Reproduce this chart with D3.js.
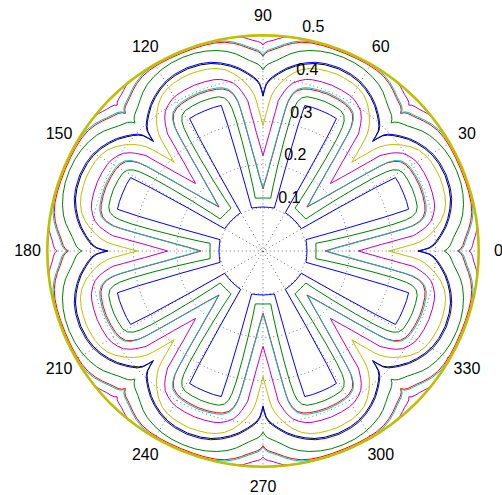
<!DOCTYPE html>
<html><head><meta charset="utf-8">
<script src="https://cdn.jsdelivr.net/npm/d3@7"></script>
<style>html,body{margin:0;padding:0;background:#fff;} svg{display:block;}</style>
</head><body>
<svg id="chart" width="502" height="495"></svg>
<script>
// ---------- data ----------
const angleTicks = [0, 30, 60, 90, 120, 150, 180, 210, 240, 270, 300, 330];
const radialTicks = [0.1, 0.2, 0.3, 0.4];
const rMax = 0.5;
const lobeCount = 8;          // the pattern repeats every 45 degrees
const periodDeg = 45;

// half-period profiles of each contour: [angle from notch (deg), radius]
const contourBlue1   = [[0,0.102],[7,0.102],[14.8,0.103],[15.2,0.2],[15.6,0.3],[16,0.351],[19,0.352],[22.5,0.352]];
const contourGreen1  = [[0,0.123],[4,0.123],[8.3,0.124],[8.8,0.15],[9.8,0.2],[10.8,0.26],[11.6,0.31],[12.3,0.34],[13,0.355],[14.2,0.366],[16,0.372],[19,0.374],[22.5,0.375]];
const contourRed1    = [[0,0.144],[1.5,0.158],[3,0.175],[4.5,0.2],[5.9,0.228],[7.2,0.265],[8.2,0.3],[9,0.333],[9.6,0.352],[10.6,0.368],[12,0.38],[14,0.387],[16,0.39],[19,0.392],[22.5,0.393]];
const contourCyan1   = [[0,0.147],[1.5,0.161],[3,0.178],[4.5,0.203],[5.9,0.231],[7.2,0.268],[8.2,0.303],[9,0.336],[9.6,0.355],[10.6,0.371],[12,0.383],[14,0.39],[16,0.393],[19,0.395],[22.5,0.396]];
const contourMagenta1= [[0,0.221],[0.8,0.232],[1.9,0.25],[3.2,0.275],[4.2,0.3],[5.1,0.325],[5.8,0.35],[6.4,0.358],[7.5,0.372],[8.5,0.383],[10,0.395],[11.8,0.403],[14,0.41],[16,0.413],[19,0.415],[22.5,0.416]];
const contourYellow1 = [[0,0.291],[0.9,0.31],[1.8,0.33],[2.5,0.348],[3.2,0.362],[4.2,0.375],[5.5,0.388],[7.5,0.404],[9.6,0.418],[12,0.43],[14.5,0.437],[17,0.441],[20,0.443],[22.5,0.444]];
const contourBlack   = [[0,0.359],[0.5,0.372],[1.1,0.385],[2,0.394],[3.2,0.402],[5,0.412],[7.5,0.425],[10,0.435],[12.7,0.444],[15.5,0.451],[18.5,0.455],[22.5,0.457]];
const contourBlue2   = [[0,0.362],[0.5,0.375],[1.1,0.388],[2,0.397],[3.2,0.405],[5,0.415],[7.5,0.428],[10,0.438],[12.7,0.447],[15.5,0.454],[18.5,0.458],[22.5,0.46]];
const contourGreen2  = [[0,0.42],[0.6,0.427],[1.5,0.433],[2.8,0.438],[4.1,0.443],[6,0.452],[8,0.462],[10.2,0.47],[13,0.477],[16,0.482],[19,0.485],[22.5,0.486]];
const contourRed2    = [[0,0.451],[0.6,0.458],[1.5,0.463],[2.8,0.467],[4,0.471],[6,0.479],[8,0.486],[10.4,0.492],[13,0.495],[16,0.496],[19,0.496],[22.5,0.496]];
const contourCyan2   = [[0,0.454],[0.6,0.461],[1.5,0.466],[2.8,0.47],[4,0.474],[6,0.482],[8,0.489],[10.4,0.495],[13,0.498],[16,0.499],[19,0.499],[22.5,0.499]];
const contourMagenta2= [[0,0.478],[0.6,0.483],[1.5,0.486],[2.8,0.489],[4,0.493],[5.5,0.498],[8,0.5],[11,0.5],[14,0.5],[17,0.5],[20,0.5],[22.5,0.5]];
const contourYellow2 = [[0,0.5],[3,0.5],[6,0.5],[9,0.5],[12,0.5],[15,0.5],[18,0.5],[21,0.5],[22.5,0.5]];

const contourProfiles = [contourBlue1, contourGreen1, contourRed1, contourCyan1, contourMagenta1, contourYellow1,
  contourBlack, contourBlue2, contourGreen2, contourRed2, contourCyan2, contourMagenta2, contourYellow2];
const contourColors = ['#0000ff','#008000','#ff0000','#00bfbf','#bf00bf','#bfbf00',
  '#000000','#0000ff','#008000','#ff0000','#00bfbf','#bf00bf','#bfbf00'];

// ---------- layout ----------
const W = 502, H = 495;
const cx = 263, cy = 251, R = 215.7;
const fontFamily = "'Liberation Sans', Arial, Helvetica, sans-serif";

const svg = d3.select('#chart');
const rScale = d3.scaleLinear().domain([0, rMax]).range([0, R]);
const rad = d => d * Math.PI / 180;
const px = (a, r) => cx + rScale(r) * Math.cos(rad(a));
const py = (a, r) => cy - rScale(r) * Math.sin(rad(a));

const g = svg.append('g');

// grid: dotted circles
g.selectAll('circle.grid').data(radialTicks).join('circle')
  .attr('cx', cx).attr('cy', cy).attr('r', d => rScale(d))
  .attr('fill', 'none').attr('stroke', '#333').attr('stroke-width', 0.7)
  .attr('stroke-dasharray', '1,3');
// outer solid circle
g.append('circle').attr('cx', cx).attr('cy', cy).attr('r', rScale(rMax))
  .attr('fill', 'none').attr('stroke', '#000').attr('stroke-width', 0.7);
// spokes
g.selectAll('line.spoke').data(angleTicks.filter(a => a < 180)).join('line')
  .attr('x1', a => px(a, rMax)).attr('y1', a => py(a, rMax))
  .attr('x2', a => px(a + 180, rMax)).attr('y2', a => py(a + 180, rMax))
  .attr('stroke', '#333').attr('stroke-width', 0.7).attr('stroke-dasharray', '1,3');

// contours
function expand(profile) {
  const pts = [];
  for (let k = 0; k < lobeCount; k++) {
    const base = k * periodDeg;
    profile.forEach(([a, r]) => pts.push([base + a, r]));
    for (let i = profile.length - 2; i >= 1; i--) {
      const [a, r] = profile[i];
      pts.push([base + periodDeg - a, r]);
    }
  }
  return pts;
}
const line = d3.line()
  .x(d => px(d[0], d[1]))
  .y(d => py(d[0], d[1]))
  .curve(d3.curveLinearClosed);

contourProfiles.forEach((p, i) => {
  g.append('path')
    .attr('d', line(expand(p)))
    .attr('fill', 'none')
    .attr('stroke', contourColors[i])
    .attr('stroke-width', i === contourProfiles.length - 1 ? 2.6 : 1)
    .attr('stroke-linejoin', 'round');
});

// angle labels
const labelR = 235.5;
g.selectAll('text.ang').data(angleTicks).join('text')
  .attr('x', a => cx + labelR * Math.cos(rad(a)))
  .attr('y', a => cy - labelR * Math.sin(rad(a)) + 5.3)
  .attr('text-anchor', 'middle')
  .attr('font-family', fontFamily).attr('font-size', 16)
  .attr('fill', '#000')
  .text(a => a);

// radial labels at 82 degrees
g.selectAll('text.rad').data(radialTicks.concat([rMax])).join('text')
  .attr('x', t => px(82, t + 0.005) + 8.9)
  .attr('y', t => py(82, t + 0.005) - 3.2)
  .attr('text-anchor', 'start')
  .attr('font-family', fontFamily).attr('font-size', 16)
  .attr('fill', '#000')
  .text(t => t.toString());
</script>
</body></html>
